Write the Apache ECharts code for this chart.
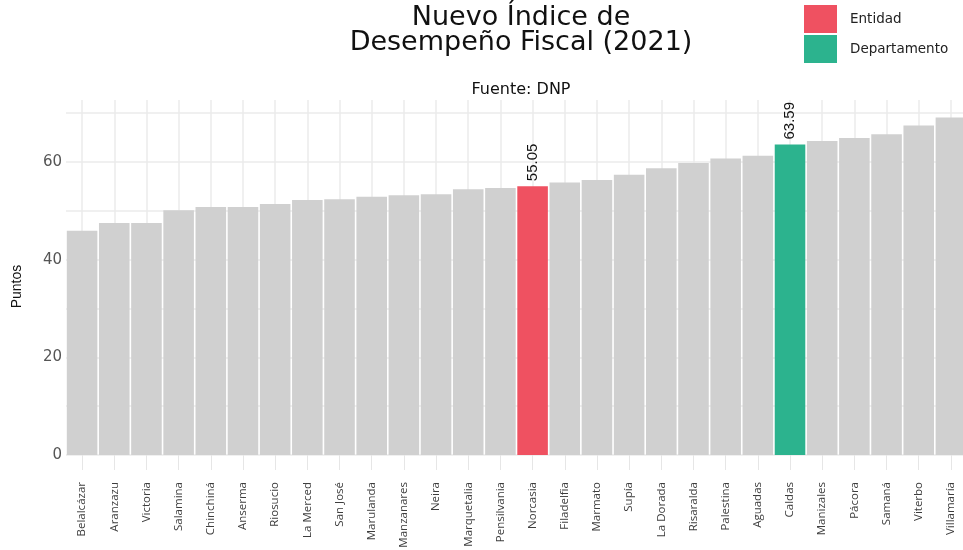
<!DOCTYPE html>
<html>
<head>
<meta charset="utf-8">
<script src="https://cdn.jsdelivr.net/npm/echarts@6/dist/echarts.min.js"></script>
<style>
  html, body { margin: 0; padding: 0; background: #fff; }
  #chart { width: 963px; height: 550px; }
</style>
</head>
<body>
<div id="chart"></div>
<script>
// municipios de Caldas, ordenados por puntaje
const municipios = ['Belalcázar', 'Aranzazu', 'Victoria', 'Salamina', 'Chinchiná', 'Anserma', 'Riosucio',
  'La Merced', 'San José', 'Marulanda', 'Manzanares', 'Neira', 'Marquetalia', 'Pensilvania', 'Norcasia',
  'Filadelfia', 'Marmato', 'Supía', 'La Dorada', 'Risaralda', 'Palestina', 'Aguadas', 'Caldas',
  'Manizales', 'Pácora', 'Samaná', 'Viterbo', 'Villamaría'];
const puntos = [45.9, 47.5, 47.5, 50.1, 50.8, 50.8, 51.4, 52.2, 52.4, 52.9, 53.2, 53.4, 54.4, 54.7, 55.05,
  55.8, 56.3, 57.4, 58.7, 59.8, 60.7, 61.3, 63.59, 64.3, 64.9, 65.7, 67.5, 69.1];
const entidad = 'Norcasia';
const departamento = 'Caldas';
const yTicks = [0, 20, 40, 60];

const gris = '#d0d0d0';
const rojo = '#ef5161';
const verde = '#2cb38e';

const resto = puntos.map((v, i) =>
  (municipios[i] === entidad || municipios[i] === departamento) ? null : v);
const soloEntidad = puntos.map((v, i) => municipios[i] === entidad ? v : null);
const soloDepto = puntos.map((v, i) => municipios[i] === departamento ? v : null);

const etiqueta = {
  show: true,
  position: 'top',
  rotate: 90,
  align: 'left',
  verticalAlign: 'middle',
  distance: 5,
  fontFamily: 'Liberation Sans',
  fontSize: 15,
  color: '#111',
  formatter: p => p.value == null ? '' : p.value.toFixed(2)
};

const chart = echarts.init(document.getElementById('chart'));
chart.setOption({
  backgroundColor: '#fff',
  animation: false,
  title: [
    {
      text: 'Nuevo Índice de\nDesempeño Fiscal (2021)',
      left: 516, top: 0, textAlign: 'center',
      textStyle: { fontFamily: 'DejaVu Sans', fontSize: 27, fontWeight: 'normal', color: '#111', lineHeight: 25 }
    },
    {
      text: 'Fuente: DNP',
      left: 516, top: 77, textAlign: 'center',
      textStyle: { fontFamily: 'DejaVu Sans', fontSize: 16, fontWeight: 'normal', color: '#111' }
    }
  ],
  legend: {
    data: ['Entidad', 'Departamento'],
    orient: 'vertical',
    left: 799, top: 0,
    itemWidth: 33, itemHeight: 28, itemGap: 2,
    icon: 'rect',
    textStyle: { fontFamily: 'DejaVu Sans', fontSize: 13.5, color: '#222', padding: [0, 0, 0, 8] }
  },
  grid: { left: 66, top: 100, right: -4, bottom: 95, containLabel: false, outerBoundsMode: 'none' },
  xAxis: {
    type: 'category',
    data: municipios,
    boundaryGap: true,
    axisLine: { show: false },
    axisTick: { show: true, alignWithLabel: true, length: 15, lineStyle: { color: '#e6e6e6', width: 1 } },
    splitLine: { show: true, alignWithLabel: true, lineStyle: { color: '#ebebeb', width: 1.5 } },
    axisLabel: {
      rotate: 90, margin: 27, interval: 0,
      fontFamily: 'Open Sans', fontSize: 11.5, color: '#3d3d3d'
    }
  },
  yAxis: {
    type: 'value',
    min: 0, max: 72.7, interval: 10,
    name: 'Puntos',
    nameLocation: 'middle',
    nameGap: 42,
    nameTextStyle: { fontFamily: 'Liberation Sans', fontSize: 14, color: '#111', padding: [0, 18, 0, 0] },
    axisLine: { show: false },
    axisTick: { show: false },
    axisLabel: {
      margin: 4, fontFamily: 'DejaVu Sans', fontSize: 15, color: '#555',
      showMaxLabel: false,
      formatter: v => yTicks.includes(v) ? String(v) : ''
    },
    splitLine: { show: true, showMaxLine: false, lineStyle: { color: '#ebebeb', width: 1.5 } }
  },
  series: [
    {
      name: 'Municipios', type: 'bar', data: resto,
      barCategoryGap: '5%', barGap: '-100%',
      itemStyle: { color: gris }
    },
    {
      name: 'Entidad', type: 'bar', data: soloEntidad,
      barCategoryGap: '5%', barGap: '-100%',
      itemStyle: { color: rojo },
      label: etiqueta
    },
    {
      name: 'Departamento', type: 'bar', data: soloDepto,
      barCategoryGap: '5%', barGap: '-100%',
      itemStyle: { color: verde },
      label: etiqueta
    }
  ]
});
</script>
</body>
</html>
